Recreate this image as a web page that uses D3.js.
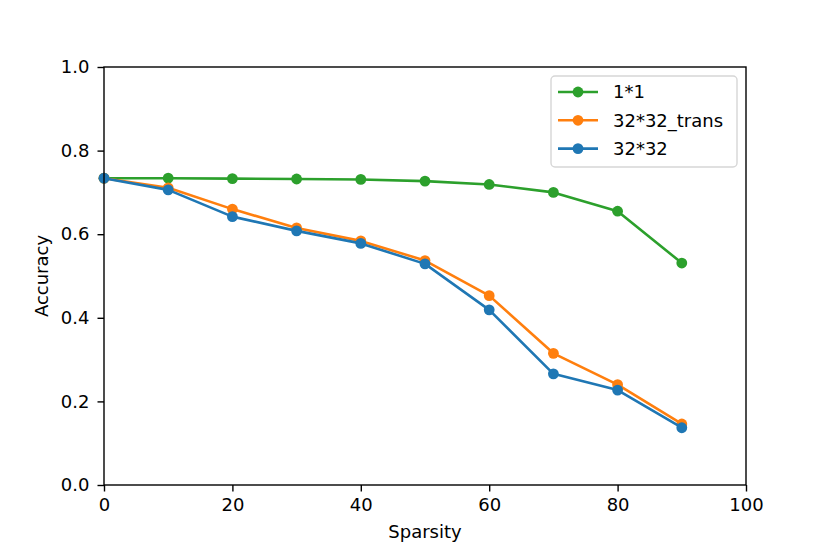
<!DOCTYPE html>
<html>
<head>
<meta charset="utf-8">
<script src="https://cdn.jsdelivr.net/npm/d3@7"></script>
<style>
body { margin: 0; background: #fff; }
text { font-family: "DejaVu Sans", sans-serif; }
</style>
</head>
<body>
<div id="canvas"></div>
<script>
const sparsity = [0, 10, 20, 30, 40, 50, 60, 70, 80, 90];
const acc1x1 = [0.734, 0.734, 0.733, 0.732, 0.731, 0.727, 0.719, 0.700, 0.655, 0.531];
const acc32trans = [0.734, 0.711, 0.660, 0.615, 0.584, 0.537, 0.453, 0.315, 0.240, 0.146];
const acc32 = [0.734, 0.706, 0.642, 0.608, 0.578, 0.529, 0.419, 0.266, 0.227, 0.137];
const xTicks = [0, 20, 40, 60, 80, 100];
const yTicks = [0.0, 0.2, 0.4, 0.6, 0.8, 1.0];

const series = [
    { name: "1*1", values: acc1x1, color: "#2ca02c" },
    { name: "32*32_trans", values: acc32trans, color: "#ff7f0e" },
    { name: "32*32", values: acc32, color: "#1f77b4" }
];

const width = 830;
const height = 554;
const margin = { top: 67, left: 104, bottom: 69, right: 84 };
const iwidth = width - margin.left - margin.right;
const iheight = height - margin.top - margin.bottom;
const fontSize = 18;

const svg = d3.select("#canvas").append("svg")
    .attr("width", width)
    .attr("height", height);

const g = svg.append("g").attr("transform", `translate(${margin.left},${margin.top})`);

const x = d3.scaleLinear().domain([0, 100]).range([0, iwidth]);
const y = d3.scaleLinear().domain([0, 1]).range([iheight, 0]);

const line = d3.line()
    .x((d, i) => x(sparsity[i]))
    .y(d => y(d));

series.forEach(s => {
    g.append("path")
        .datum(s.values)
        .attr("fill", "none")
        .attr("stroke", s.color)
        .attr("stroke-width", 2.6)
        .attr("stroke-linejoin", "round")
        .attr("d", line);
    g.selectAll(null).data(s.values).enter().append("circle")
        .attr("cx", (d, i) => x(sparsity[i]))
        .attr("cy", d => y(d))
        .attr("r", 5.4)
        .attr("fill", s.color);
});

// frame
g.append("rect")
    .attr("width", iwidth).attr("height", iheight)
    .attr("fill", "none").attr("stroke", "#000").attr("stroke-width", 1.4);

const xAxis = g.append("g")
    .attr("transform", `translate(0,${iheight})`)
    .call(d3.axisBottom(x).tickValues(xTicks).tickFormat(d3.format("d")).tickSizeInner(6.5).tickSizeOuter(0).tickPadding(7));
const yAxis = g.append("g")
    .call(d3.axisLeft(y).tickValues(yTicks).tickFormat(d3.format(".1f")).tickSizeInner(6.5).tickSizeOuter(0).tickPadding(8));
[xAxis, yAxis].forEach(a => {
    a.attr("font-size", fontSize).attr("font-family", "DejaVu Sans");
    a.select(".domain").remove();
    a.selectAll("text").attr("fill", "#000");
    a.selectAll("line").attr("stroke", "#000").attr("stroke-width", 1.4);
});

svg.append("text")
    .attr("x", margin.left + iwidth / 2).attr("y", 538)
    .attr("text-anchor", "middle").attr("font-size", fontSize)
    .text("Sparsity");
svg.append("text")
    .attr("transform", `translate(48,${margin.top + iheight / 2}) rotate(-90)`)
    .attr("text-anchor", "middle").attr("font-size", fontSize)
    .text("Accuracy");

// legend
const lg = svg.append("g").attr("transform", "translate(551,76)");
lg.append("rect")
    .attr("width", 186).attr("height", 91).attr("rx", 4)
    .attr("fill", "#fff").attr("fill-opacity", 0.8)
    .attr("stroke", "#d6d6d6").attr("stroke-width", 1.4);
series.forEach((s, i) => {
    const yy = 16 + i * 28.3;
    lg.append("line").attr("x1", 7).attr("x2", 47).attr("y1", yy).attr("y2", yy)
        .attr("stroke", s.color).attr("stroke-width", 2.6);
    lg.append("circle").attr("cx", 27).attr("cy", yy).attr("r", 5.4).attr("fill", s.color);
    lg.append("text").attr("x", 62).attr("y", yy).attr("dy", "0.36em").attr("font-size", fontSize)
        .attr("fill", "#000").text(s.name);
});
</script>
</body>
</html>
